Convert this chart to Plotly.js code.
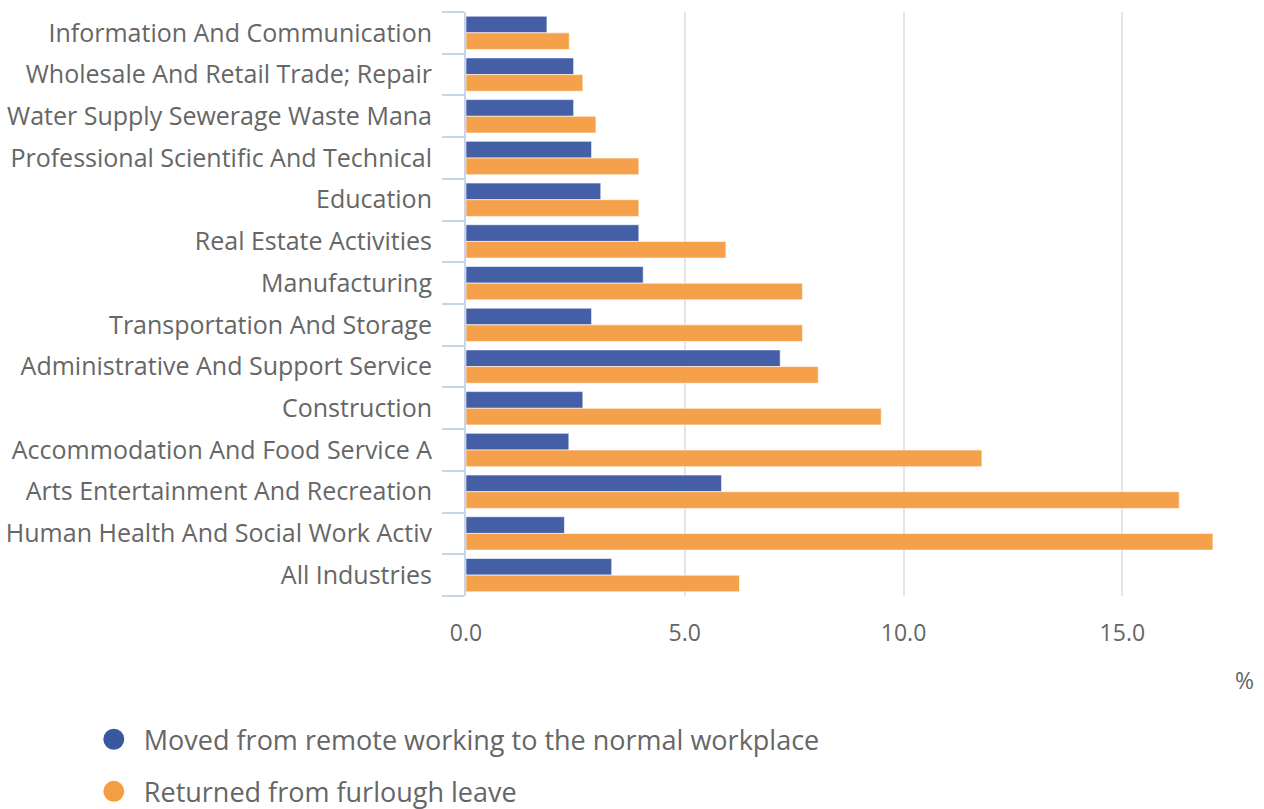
<!DOCTYPE html>
<html>
<head>
<meta charset="utf-8">
<script src="https://cdn.plot.ly/plotly-3.0.1.min.js"></script>
<style>
html, body { margin: 0; padding: 0; background: #ffffff; }
#chart { width: 1264px; height: 809px; }
</style>
</head>
<body>
<div id="chart"></div>
<script>
// ---- Data ----
const categories = [
  "Information And Communication",
  "Wholesale And Retail Trade; Repair Of Motor Vehicles And Motorcycles",
  "Water Supply Sewerage Waste Management And Remediation Activities",
  "Professional Scientific And Technical Activities",
  "Education",
  "Real Estate Activities",
  "Manufacturing",
  "Transportation And Storage",
  "Administrative And Support Service Activities",
  "Construction",
  "Accommodation And Food Service Activities",
  "Arts Entertainment And Recreation",
  "Human Health And Social Work Activities",
  "All Industries"
];
const tickLabels = [
  "Information And Communication",
  "Wholesale And Retail Trade; Repair",
  "Water Supply Sewerage Waste Mana",
  "Professional Scientific And Technical",
  "Education",
  "Real Estate Activities",
  "Manufacturing",
  "Transportation And Storage",
  "Administrative And Support Service",
  "Construction",
  "Accommodation And Food Service A",
  "Arts Entertainment And Recreation",
  "Human Health And Social Work Activ",
  "All Industries"
];
const remoteToWorkplace = [1.85, 2.46, 2.46, 2.87, 3.08, 3.95, 4.05, 2.87, 7.18, 2.67, 2.35, 5.84, 2.25, 3.33];
const fromFurlough      = [2.36, 2.67, 2.97, 3.95, 3.95, 5.94, 7.69, 7.69, 8.05, 9.49, 11.79, 16.30, 17.07, 6.25];
const seriesNames = ["Moved from remote working to the normal workplace", "Returned from furlough leave"];
const seriesColors = ["#3A57A1", "#F59D42"];
const xTickVals = [0, 5, 10, 15];
const unitLabel = "%";

// ---- Traces ----
const seriesValues = [remoteToWorkplace, fromFurlough];
const traces = [];
seriesValues.forEach((vals, i) => {
  traces.push({
    type: "bar",
    orientation: "h",
    name: seriesNames[i],
    x: vals,
    y: categories,
    marker: { color: seriesColors[i], opacity: 0.95, line: { color: "rgba(255,255,255,0.6)", width: 1 } },
    showlegend: false,
    hovertemplate: "%{y}: %{x:.1f}%<extra></extra>"
  });
});
// legend entries drawn as circles
seriesNames.forEach((nm, i) => {
  traces.push({
    type: "scatter",
    mode: "markers",
    name: nm,
    legendgroup: "g" + i,
    x: [null],
    y: [null],
    marker: { color: seriesColors[i], size: 16, symbol: "circle", line: { color: seriesColors[i], width: 5 } },
    showlegend: true,
    hoverinfo: "skip"
  });
});

const layout = {
  width: 1264,
  height: 809,
  margin: { l: 466, r: 20, t: 12, b: 213, pad: 0, autoexpand: false },
  paper_bgcolor: "#ffffff",
  plot_bgcolor: "#ffffff",
  font: { family: '"Open Sans", sans-serif', size: 25, color: "#666666" },
  barmode: "group",
  bargap: 0.2,
  bargroupgap: 0,
  xaxis: {
    range: [0, 17.78],
    tickmode: "array",
    tickvals: xTickVals,
    tickformat: ".1f",
    showgrid: true,
    gridcolor: "#e4e4e4",
    gridwidth: 2,
    zeroline: false,
    showline: false,
    ticks: "outside",
    ticklen: 16,
    tickcolor: "rgba(0,0,0,0)",
    tickfont: { size: 23, color: "#666666" },
    automargin: false,
    fixedrange: true
  },
  yaxis: {
    type: "category",
    autorange: "reversed",
    tickmode: "array",
    tickvals: categories,
    ticktext: tickLabels,
    ticks: "outside",
    tickson: "boundaries",
    ticklen: 22,
    tickwidth: 2,
    tickcolor: "#c8d3ec",
    ticklabelstandoff: 27,
    showline: true,
    linecolor: "#c8d3ec",
    linewidth: 2,
    showgrid: false,
    zeroline: false,
    automargin: false,
    tickfont: { size: 25, color: "#666666" },
    fixedrange: true
  },
  legend: {
    xref: "container",
    yref: "container",
    x: 0.0663,
    y: 0.116,
    xanchor: "left",
    yanchor: "top",
    orientation: "v",
    traceorder: "grouped",
    tracegroupgap: 14,
    itemwidth: 50,
    font: { size: 27, color: "#666666" },
    bgcolor: "rgba(0,0,0,0)"
  },
  annotations: [{
    text: unitLabel,
    xref: "paper",
    yref: "paper",
    x: 1,
    y: -0.144,
    xanchor: "center",
    yanchor: "middle",
    showarrow: false,
    font: { size: 23, color: "#666666" }
  }]
};

Plotly.newPlot("chart", traces, layout, { displayModeBar: false, responsive: false });
</script>
</body>
</html>
